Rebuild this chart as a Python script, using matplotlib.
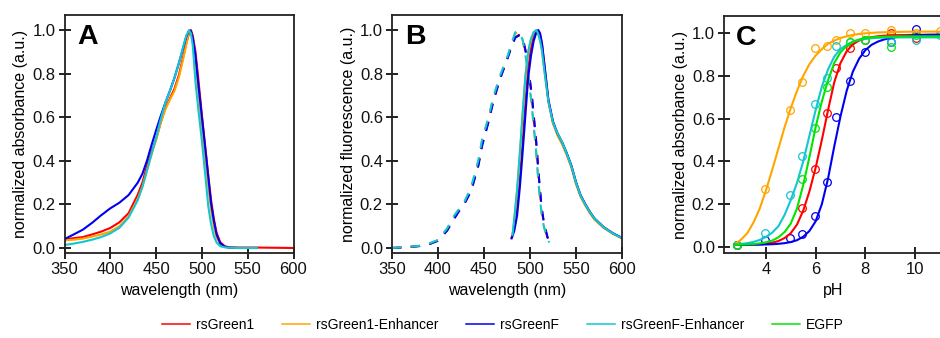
import numpy as np
import matplotlib
matplotlib.use("Agg")
import matplotlib.pyplot as plt
from matplotlib.lines import Line2D

plt.rcParams['font.family'] = ['Liberation Sans', 'DejaVu Sans']

nan = np.nan
series = ["rsGreen1", "rsGreen1-Enhancer", "rsGreenF", "rsGreenF-Enhancer", "EGFP"]
colors = ["#ff0000", "#ffa500", "#0000f0", "#12c6d2", "#00e600"]

# ---------------- Panel A: absorbance spectra ----------------
abs_wl = [350, 360, 370, 380, 390, 400, 410, 420, 430, 435, 440, 445, 450, 455, 460, 465,
          470, 475, 480, 483, 486, 488, 490, 493, 496, 500, 504, 507, 510, 513, 516, 520,
          525, 530, 540, 560, 580, 600]
abs_rsGreen1 = [0.040, 0.045, 0.050, 0.062, 0.075, 0.092, 0.118, 0.160, 0.245, 0.300, 0.375, 0.440,
                0.500, 0.575, 0.640, 0.685, 0.730, 0.795, 0.885, 0.940, 0.985, 1.000, 0.975, 0.900,
                0.780, 0.610, 0.450, 0.330, 0.220, 0.135, 0.070, 0.027, 0.008, 0.003, 0.002, 0.002,
                0.001, 0.000]
abs_rsGreen1E = [0.035, 0.038, 0.043, 0.052, 0.062, 0.075, 0.100, 0.145, 0.225, 0.280, 0.355, 0.430,
                 0.495, 0.575, 0.635, 0.680, 0.720, 0.785, 0.875, 0.935, 0.995, 0.990, 0.955, 0.860,
                 0.720, 0.550, 0.400, 0.280, 0.175, 0.100, 0.048, 0.017, 0.005, 0.002, 0.000, 0.000,
                 nan, nan]
abs_rsGreenF = [0.041, 0.062, 0.084, 0.115, 0.150, 0.182, 0.208, 0.243, 0.300, 0.340, 0.400, 0.472,
                0.540, 0.605, 0.665, 0.720, 0.780, 0.850, 0.925, 0.970, 0.998, 0.995, 0.965, 0.880,
                0.755, 0.600, 0.445, 0.325, 0.205, 0.125, 0.062, 0.022, 0.006, 0.002, 0.000, 0.000,
                nan, nan]
abs_rsGreenFE = [0.014, 0.020, 0.028, 0.038, 0.050, 0.067, 0.093, 0.140, 0.220, 0.280, 0.355, 0.430,
                 0.505, 0.590, 0.665, 0.720, 0.780, 0.850, 0.930, 0.975, 0.998, 0.985, 0.930, 0.760,
                 0.640, 0.490, 0.320, 0.190, 0.110, 0.055, 0.025, 0.008, 0.003, 0.001, 0.000, 0.000,
                 nan, nan]

# ---------------- Panel B: excitation (dashed) and emission (solid) ----------------
ex_wl = [350, 360, 370, 380, 390, 400, 410, 417, 423, 429, 434, 438, 444, 448, 455, 460, 467,
         476, 480, 484, 488, 492, 496, 499, 502, 504, 506.5, 508.5, 510, 512.5, 515, 519, 521]
ex_rsGreen1 = [0.0, 0.002, 0.005, 0.009, 0.017, 0.034, 0.082, 0.133, 0.172, 0.207, 0.248, 0.293,
               0.385, 0.475, 0.583, 0.673, 0.772, 0.877, 0.927, 0.967, 0.978, 0.963, 0.885,
               0.795, 0.695, 0.605, 0.495, 0.385, 0.305, 0.185, 0.115, 0.048, 0.028]
ex_rsGreen1E = [0.0, 0.003, 0.006, 0.010, 0.020, 0.036, 0.088, 0.143, 0.178, 0.213, 0.258, 0.305,
                0.400, 0.495, 0.597, 0.688, 0.783, 0.883, 0.937, 0.985, 0.990, 0.955, 0.865,
                0.765, 0.655, 0.565, 0.455, 0.345, 0.265, 0.163, 0.100, 0.040, 0.025]
ex_rsGreenF = [0.0, 0.002, 0.005, 0.009, 0.017, 0.033, 0.080, 0.130, 0.170, 0.205, 0.245, 0.290,
               0.380, 0.470, 0.580, 0.670, 0.770, 0.875, 0.925, 0.965, 0.975, 0.965, 0.890,
               0.800, 0.700, 0.610, 0.500, 0.390, 0.310, 0.190, 0.120, 0.050, 0.030]
ex_rsGreenFE = [0.0, 0.003, 0.006, 0.010, 0.020, 0.037, 0.090, 0.145, 0.180, 0.215, 0.260, 0.310,
                0.405, 0.500, 0.600, 0.690, 0.785, 0.885, 0.940, 0.990, 0.995, 0.955, 0.860,
                0.760, 0.650, 0.560, 0.450, 0.340, 0.260, 0.160, 0.100, 0.040, 0.025]

em_wl = [480, 481, 483, 486, 489, 492, 495, 498, 501, 504, 507, 509, 511, 513, 516, 520, 525,
         530, 535, 540, 545, 550, 555, 560, 565, 570, 580, 590, 600]
em_rsGreen1 = [0.048, 0.060, 0.100, 0.190, 0.320, 0.490, 0.670, 0.820, 0.915, 0.970, 0.998, 0.995,
               0.975, 0.935, 0.825, 0.675, 0.575, 0.520, 0.480, 0.430, 0.375, 0.300, 0.240, 0.200,
               0.165, 0.135, 0.095, 0.067, 0.045]
em_rsGreen1E = [nan, 0.060, 0.130, 0.265, 0.430, 0.610, 0.785, 0.895, 0.955, 0.990, 1.000, 0.985,
                0.955, 0.910, 0.805, 0.670, 0.570, 0.515, 0.475, 0.425, 0.368, 0.292, 0.235, 0.195,
                0.160, 0.130, 0.092, 0.065, 0.044]
em_rsGreenF = [0.044, 0.055, 0.080, 0.150, 0.280, 0.440, 0.610, 0.780, 0.880, 0.950, 0.990, 1.000,
               0.985, 0.940, 0.830, 0.680, 0.580, 0.525, 0.485, 0.435, 0.378, 0.302, 0.242, 0.202,
               0.166, 0.136, 0.096, 0.068, 0.046]
em_rsGreenFE = [nan, 0.060, 0.140, 0.270, 0.440, 0.620, 0.790, 0.900, 0.960, 0.990, 1.000, 0.980,
                0.950, 0.905, 0.800, 0.672, 0.575, 0.525, 0.485, 0.432, 0.375, 0.300, 0.240, 0.200,
                0.165, 0.135, 0.095, 0.067, 0.045]

# ---------------- Panel C: pH titration ----------------
ph_pts = [2.83, 3.95, 4.95, 5.47, 5.96, 6.46, 6.81, 7.37, 7.99, 9.05, 10.04, 11.0]
pts_rsGreen1 = [0.01, nan, nan, 0.184, 0.367, 0.628, 0.836, 0.930, 0.970, 1.000, 0.977, nan]
pts_rsGreen1E = [0.01, 0.270, 0.640, 0.770, 0.930, 0.938, 0.970, 1.000, 1.000, 1.015, 1.000, 1.010]
pts_rsGreenF = [0.01, 0.034, 0.042, 0.062, 0.144, 0.305, 0.606, 0.776, 0.914, 0.960, 1.020, nan]
pts_rsGreenFE = [0.01, 0.067, 0.245, 0.425, 0.667, 0.790, 0.940, 0.960, 0.970, 0.960, 0.970, 0.990]
pts_EGFP = [0.01, nan, nan, 0.316, 0.558, 0.747, nan, 0.960, 0.970, 0.935, 0.990, nan]

ph_fit = [2.8, 3.0, 3.25, 3.5, 3.75, 4.0, 4.25, 4.5, 4.75, 5.0, 5.25, 5.5, 5.75, 6.0, 6.25, 6.5,
          6.75, 7.0, 7.25, 7.5, 7.75, 8.0, 8.25, 8.5, 8.75, 9.0, 9.5, 10.0, 10.5, 11.2]
fit_rsGreen1 = [0.010, 0.010, 0.011, 0.012, 0.013, 0.015, 0.020, 0.028, 0.042, 0.065, 0.105, 0.170,
                0.260, 0.370, 0.500, 0.640, 0.770, 0.860, 0.915, 0.948, 0.965, 0.975, 0.981, 0.985,
                0.988, 0.990, 0.991, 0.992, 0.992, 0.992]
fit_rsGreen1E = [0.018, 0.035, 0.065, 0.115, 0.180, 0.265, 0.360, 0.460, 0.560, 0.650, 0.730, 0.800,
                 0.855, 0.895, 0.925, 0.950, 0.965, 0.977, 0.985, 0.992, 0.996, 0.999, 1.001, 1.003,
                 1.004, 1.005, 1.006, 1.007, 1.007, 1.007]
fit_rsGreenF = [0.010, 0.010, 0.010, 0.011, 0.011, 0.012, 0.013, 0.015, 0.018, 0.023, 0.032, 0.048,
                0.075, 0.120, 0.200, 0.320, 0.470, 0.610, 0.730, 0.820, 0.880, 0.920, 0.945, 0.960,
                0.970, 0.977, 0.985, 0.990, 0.992, 0.993]
fit_rsGreenFE = [0.012, 0.014, 0.018, 0.024, 0.033, 0.047, 0.067, 0.097, 0.150, 0.220, 0.300, 0.400,
                 0.520, 0.640, 0.750, 0.830, 0.890, 0.925, 0.945, 0.960, 0.968, 0.973, 0.976, 0.978,
                 0.979, 0.980, 0.980, 0.980, 0.980, 0.980]
fit_EGFP = [0.010, 0.011, 0.012, 0.014, 0.017, 0.022, 0.030, 0.045, 0.070, 0.110, 0.180, 0.290,
            0.420, 0.560, 0.680, 0.780, 0.860, 0.910, 0.940, 0.960, 0.970, 0.977, 0.980, 0.982,
            0.983, 0.984, 0.985, 0.985, 0.985, 0.985]

# ---------------- Figure ----------------
W, H = 940, 338
fig = plt.figure(figsize=(W / 100, H / 100), dpi=100)


def frame(l, r, t, b):
    return [l / W, 1 - b / H, (r - l) / W, (b - t) / H]


axA = fig.add_axes(frame(64.5, 293.5, 15, 253))
axB = fig.add_axes(frame(392, 622, 15, 253))
axC = fig.add_axes(frame(724, 943, 16, 253))

lw = 1.5
abs_sets = [abs_rsGreen1, abs_rsGreen1E, abs_rsGreenF, abs_rsGreenFE]
for vals, c in zip(abs_sets, colors[:4]):
    axA.plot(abs_wl, vals, color=c, lw=lw)

ex_sets = [ex_rsGreen1, ex_rsGreen1E, ex_rsGreenF, ex_rsGreenFE]
em_sets = [em_rsGreen1, em_rsGreen1E, em_rsGreenF, em_rsGreenFE]
for vals, c in zip(ex_sets, colors[:4]):
    axB.plot(ex_wl, vals, color=c, lw=lw, dashes=(4.5, 4.5))
for vals, c in zip(em_sets, colors[:4]):
    axB.plot(em_wl, vals, color=c, lw=lw)

pts_sets = [pts_rsGreen1, pts_rsGreen1E, pts_rsGreenF, pts_rsGreenFE, pts_EGFP]
fit_sets = [fit_rsGreen1, fit_rsGreen1E, fit_rsGreenF, fit_rsGreenFE, fit_EGFP]
for vals, c in zip(pts_sets, colors):
    axC.plot(ph_pts, vals, ls='none', marker='o', ms=5.5, mfc='none', mec=c, mew=0.9)
for vals, c in zip(fit_sets, colors):
    axC.plot(ph_fit, vals, color=c, lw=lw)

for ax in (axA, axB, axC):
    ax.set_yticks([0.0, 0.2, 0.4, 0.6, 0.8, 1.0])
    ax.set_yticklabels(["0.0", "0.2", "0.4", "0.6", "0.8", "1.0"])
    ax.tick_params(direction='inout', length=9, width=1.3, labelsize=12, pad=2,
                   top=False, right=False, colors='#111111')
    for s in ax.spines.values():
        s.set_linewidth(1.3)
        s.set_color('#222222')

for ax in (axA, axB):
    ax.set_xlim(350, 600)
    ax.set_ylim(-0.023, 1.069)
    ax.set_xticks([350, 400, 450, 500, 550, 600])
    ax.set_xlabel("wavelength (nm)", fontsize=11.5, labelpad=4)

axA.set_ylabel("normalized absorbance (a.u.)", fontsize=11.5, labelpad=3)
axB.set_ylabel("normalized fluorescence (a.u.)", fontsize=11.5, labelpad=3)

axC.set_xlim(2.31, 11.13)
axC.set_ylim(-0.028, 1.08)
axC.set_xticks([4, 6, 8, 10])
axC.set_xlabel("pH", fontsize=11.5, labelpad=4)
axC.set_ylabel("normalized absorbance (a.u.)", fontsize=11.5, labelpad=3)

for ax, letter in zip((axA, axB, axC), "ABC"):
    ax.text(0.055, 0.962, letter, transform=ax.transAxes, fontsize=20.5, fontweight='bold',
            ha='left', va='top')

handles = [Line2D([], [], color=c, lw=1.1) for c in colors]
fig.legend(handles, series, ncol=5, loc='center', bbox_to_anchor=(0.535, 1 - 325 / H),
           frameon=False, fontsize=10, handlelength=2.0, handletextpad=0.45,
           columnspacing=2.0)

fig.savefig("out.png", dpi=100)
